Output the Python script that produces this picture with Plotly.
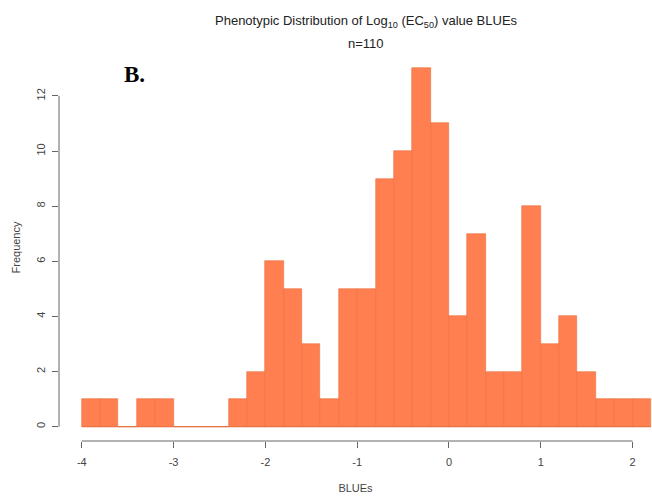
import plotly.graph_objects as go

# Histogram bins (width 0.2) and counts
bin_left = [-4.0, -3.8, -3.6, -3.4, -3.2, -3.0, -2.8, -2.6, -2.4, -2.2,
            -2.0, -1.8, -1.6, -1.4, -1.2, -1.0, -0.8, -0.6, -0.4, -0.2,
            0.0, 0.2, 0.4, 0.6, 0.8, 1.0, 1.2, 1.4, 1.6, 1.8, 2.0]
counts = [1, 1, 0, 1, 1, 0, 0, 0, 1, 2,
          6, 5, 3, 1, 5, 5, 9, 10, 13, 11,
          4, 7, 2, 2, 8, 3, 4, 2, 1, 1, 1]
bin_width = 0.2
x_ticks = [-4, -3, -2, -1, 0, 1, 2]
x_tick_labels = ["-4", "-3", "-2", "-1", "0", "1", "2"]
y_ticks = [0, 2, 4, 6, 8, 10, 12]
y_tick_labels = ["0", "2", "4", "6", "8", "10", "12"]

centers = [b + bin_width / 2 for b in bin_left]
edges = bin_left + [bin_left[-1] + bin_width]

fill = "#FF7F50"
border = "#E8703F"
axis_col = "#666666"
text_col = "#444444"

fig = go.Figure()
# baseline for zero-count bins (R draws empty rects as a line)
fig.add_trace(go.Scatter(x=[edges[0], edges[-1]], y=[0, 0], mode="lines",
                         line=dict(color=border, width=1), hoverinfo="skip",
                         showlegend=False))
fig.add_trace(go.Bar(x=centers, y=counts, width=bin_width,
                     marker=dict(color=fill, line=dict(color=border, width=0.6)),
                     showlegend=False))

# R-style axis lines spanning only the tick range
fig.add_shape(type="line", xref="x", yref="paper", x0=x_ticks[0], x1=x_ticks[-1],
              y0=0, y1=0, line=dict(color=axis_col, width=1))
fig.add_shape(type="line", xref="paper", yref="y", x0=0, x1=0,
              y0=y_ticks[0], y1=y_ticks[-1], line=dict(color=axis_col, width=1))

font = "Liberation Sans, Arial, sans-serif"
fig.update_layout(
    width=652, height=499,
    margin=dict(l=59, r=0, t=54, b=58),
    plot_bgcolor="white", paper_bgcolor="white",
    bargap=0,
    xaxis=dict(range=[-4.248, 2.212], tickvals=x_ticks, ticktext=x_tick_labels,
               ticks="outside", ticklen=6, tickcolor=axis_col, showgrid=False,
               zeroline=False, showline=False, ticklabelstandoff=5,
               tickfont=dict(family=font, size=11, color=text_col),
               title=dict(text="BLUEs", font=dict(family=font, size=11, color=text_col),
                          standoff=17)),
    yaxis=dict(range=[-0.52, 13.52], tickvals=y_ticks, ticktext=y_tick_labels,
               ticks="outside", ticklen=6, tickcolor=axis_col, showgrid=False,
               zeroline=False, showline=False, tickangle=-90, ticklabelstandoff=3,
               tickfont=dict(family=font, size=11, color=text_col),
               title=dict(text="Frequency", font=dict(family=font, size=11, color=text_col),
                          standoff=11)),
    annotations=[
        dict(text="Phenotypic Distribution of Log<sub>10</sub> (EC<sub>50</sub>) value BLUEs",
             xref="paper", yref="paper", x=0.5185, y=1, yshift=33,
             xanchor="center", yanchor="middle", showarrow=False,
             font=dict(family=font, size=13, color="#222222")),
        dict(text="n=110", xref="paper", yref="paper", x=0.5185, y=1, yshift=11,
             xanchor="center", yanchor="middle", showarrow=False,
             font=dict(family=font, size=13, color="#222222")),
        dict(text="<b>B.</b>", xref="paper", yref="paper", x=0.1062, y=1, yshift=-20,
             xanchor="left", yanchor="middle", showarrow=False,
             font=dict(family="Liberation Serif, Times New Roman, serif", size=23,
                       color="black")),
    ],
)

fig.write_html("out.html")
